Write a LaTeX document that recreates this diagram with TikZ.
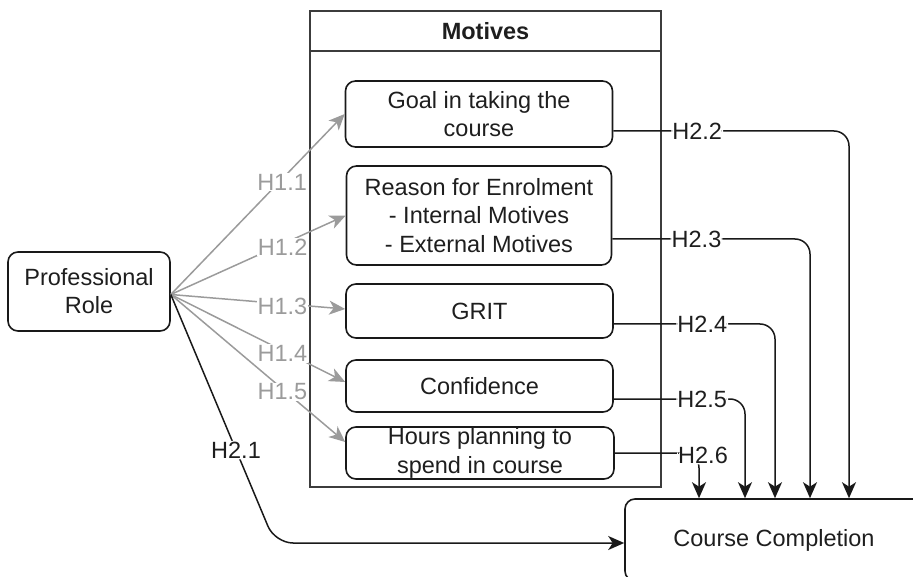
\documentclass[tikz,border=0pt]{standalone}
\usepackage{fontspec}
\setmainfont{Liberation Sans}
\usetikzlibrary{arrows.meta,calc}
\definecolor{inkc}{RGB}{25,25,25}
\definecolor{textc}{RGB}{30,30,30}
\definecolor{hgray}{RGB}{155,155,155}
\begin{document}
\begin{tikzpicture}[x=1pt,y=-1pt,
  font=\fontsize{23.5}{28.2}\selectfont,
  box/.style={draw=inkc, line width=1.6pt, rounded corners=10pt, align=center, text=textc, inner sep=0pt},
  lane/.style={draw=inkc!85, line width=2pt},
  tip/.style={-{Stealth[length=16pt,width=14pt,inset=4.5pt]}},
  h1/.style={draw=hgray, line width=1.5pt, tip},
  h1lab/.style={fill=white, text=hgray, inner sep=1pt, yshift=-3pt},
  h2/.style={draw=inkc, line width=1.5pt, rounded corners=15pt, tip},
  h2lab/.style={fill=white, text=textc, inner sep=1pt},
]
\useasboundingbox (0,0) rectangle (913,577);

% swimlane container with its title bar
\draw[lane] (310,11) rectangle (661,487);
\draw[lane] (310,51) -- (661,51);
\node[font=\fontsize{23.5}{28.2}\selectfont\bfseries, text=textc] (motivestitle) at (485.5,31) {Motives};

% boxes
\node[box, minimum width=162pt, minimum height=79pt] (role) at (89,291.5) {Professional\\Role};
\node[box, minimum width=267pt, minimum height=66pt] (goal) at (479,114) {Goal in taking the\\course};
\node[box, minimum width=265pt, minimum height=99pt] (reason) at (479,215.5) {Reason for Enrolment\\- Internal Motives\\- External Motives};
\node[box, minimum width=267pt, minimum height=54pt] (grit) at (479.5,311) {GRIT};
\node[box, minimum width=267pt, minimum height=52pt] (conf) at (479.5,386) {Confidence};
\node[box, minimum width=268pt, minimum height=52pt] (hours) at (480,453) {Hours planning to\\spend in course};
\node[box, minimum width=298pt, minimum height=82pt] (cc) at (774,540) {Course Completion};

% common start point of the edges leaving the role box
\coordinate (rs) at ([yshift=-3pt]role.east);

% H1 edges (grey)
\draw[h1] (rs) -- node[h1lab, pos=0.64] {H1.1} (goal.west);
\draw[h1] (rs) -- node[h1lab, pos=0.64] {H1.2} (reason.west);
\draw[h1] (rs) -- node[h1lab, pos=0.64] {H1.3} ([yshift=2pt]grit.west);
\draw[h1] (rs) -- node[h1lab, pos=0.64] {H1.4} ([yshift=4pt]conf.west);
\draw[h1] (rs) -- node[h1lab, pos=0.64] {H1.5} ([yshift=11pt]hours.west);

% H2.1 from the role box to the completion box
\coordinate (k21) at (275,543);
\draw[h2, rounded corners=18pt] (rs) -- node[h2lab, pos=0.626] {H2.1} (k21) -- (k21 -| cc.west);

% H2.2 - H2.6 from the motives to the completion box
\coordinate (k22) at (849,131);
\coordinate (k23) at (810,239);
\coordinate (k24) at (775,324);
\coordinate (k25) at (745,399);
\coordinate (k26) at (699,453);
\draw[h2] ([yshift=-17pt]goal.east) -- node[h2lab, pos=0.356] {H2.2} (k22) -- (k22 |- cc.north);
\draw[h2] ([yshift=-23.5pt]reason.east) -- node[h2lab, pos=0.426] {H2.3} (k23) -- (k23 |- cc.north);
\draw[h2] ([yshift=-13pt]grit.east) -- node[h2lab, pos=0.549] {H2.4} (k24) -- (k24 |- cc.north);
\draw[h2] ([yshift=-13pt]conf.east) -- node[h2lab, pos=0.674] {H2.5} (k25) -- (k25 |- cc.north);
\draw[h2] (hours.east) -- node[h2lab, pos=1, xshift=4pt, yshift=-2pt] {H2.6} (k26) -- (k26 |- cc.north);
\end{tikzpicture}
\end{document}
